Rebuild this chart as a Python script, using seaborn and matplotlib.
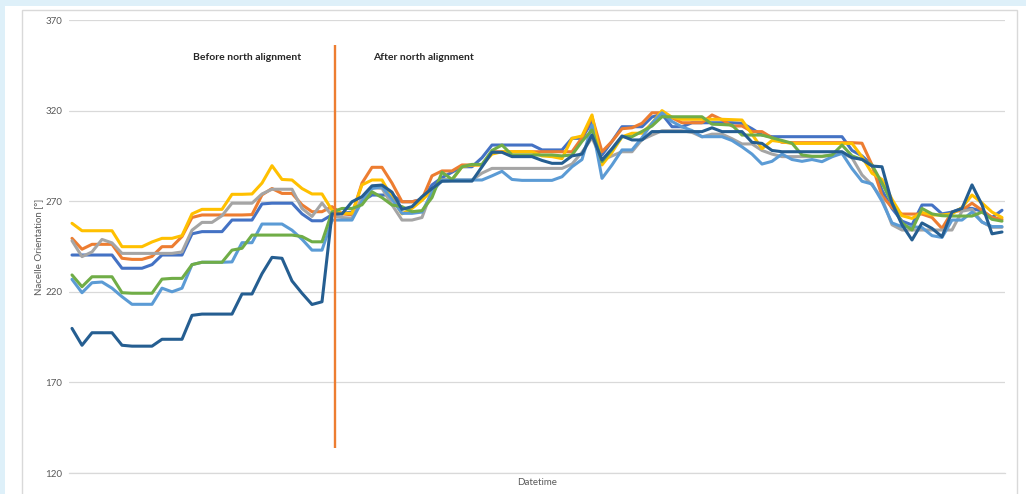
import numpy as np
import pandas as pd
import matplotlib
matplotlib.use("Agg")
import matplotlib.pyplot as plt
import seaborn as sns
from matplotlib.patches import Rectangle

# ---------------- data ----------------
series_names = ["T1", "T2", "T3", "T4", "T5", "T6", "T7"]
series_colors = ["#4472C4", "#ED7D31", "#A5A5A5", "#FFC000", "#5B9BD5", "#70AD47", "#255E91"]

t1_blue = [
    240.3, 240.3, 240.3, 240.3, 240.3, 233, 233, 233, 235, 240.3,
    240.3, 240.3, 252, 253.2, 253.2, 253.2, 259.6, 259.6, 259.6, 268.5,
    268.9, 268.9, 268.9, 263, 259.2, 259.2, 262.5,
    263.3, 264, 270, 273.4, 273.4, 273.4, 269.7, 269.7, 271, 279,
    283, 286, 289, 289, 294, 301, 301, 301, 301, 301,
    298.3, 298.3, 298.3, 304.7, 304.7, 314, 295.5, 303, 311.1, 311.1,
    311.1, 316.5, 318, 311.1, 311.1, 313.3, 313.3, 313.3, 313.3, 313.3,
    313, 310, 306.5, 305.6, 305.6, 305.6, 305.6, 305.6, 305.6, 305.6,
    305.6, 298, 295, 290, 276, 266, 259, 256.9, 267.9, 267.9,
    263, 264, 266, 266, 264.5, 261, 265]

t2_orange = [
    249.5, 243.5, 246.2, 246.2, 246.2, 238.5, 237.9, 237.9, 239.5, 244.9,
    244.9, 250.5, 261, 262.4, 262.4, 262.4, 262.4, 262.4, 262.6, 273.5,
    277, 274.3, 274.3, 268, 264.2, 264.2, 267,
    263, 262.5, 280, 288.7, 288.7, 280, 269.7, 269.7, 271, 284,
    286.7, 286.7, 290, 290, 290, 297.3, 297.3, 297.3, 297.3, 297.3,
    297.3, 297.3, 297.3, 297.3, 305, 316.6, 297.3, 303, 310, 310.5,
    313, 318.8, 318.8, 316, 313.3, 313.3, 313.3, 317.6, 315, 311.5,
    311.5, 308.4, 308.4, 305, 302.5, 302.3, 302.3, 302.3, 302.3, 302.3,
    302.3, 302.3, 302, 290, 273, 266.5, 262.9, 262.9, 262.9, 261,
    255, 264, 265, 268.9, 265, 261, 260]

t3_gray = [
    248.2, 239.4, 242, 248.9, 247, 241.2, 241.2, 241.2, 241.2, 241.2,
    241.2, 242, 254, 258.3, 258.3, 262, 268.9, 268.9, 268.9, 274,
    276.6, 276.6, 276.6, 266, 261.6, 269, 262,
    261, 260.6, 272, 277.5, 277.1, 268, 259.6, 259.6, 261, 276,
    281.7, 281.7, 281.7, 281.7, 285.5, 288.1, 288.1, 288.1, 288.1, 288.1,
    288.1, 288.1, 288.1, 290.5, 297, 305, 292.7, 295, 297.3, 297.3,
    304, 306.5, 308.9, 308.9, 308.9, 308, 305.5, 307, 307, 304.5,
    301.6, 301.6, 298, 296, 294.6, 294.6, 294.6, 294.6, 294.6, 295.5,
    296.5, 294, 284.5, 279, 271.5, 257, 254.1, 254.1, 254.1, 254.1,
    254.1, 254.1, 264.5, 265.5, 258.5, 255.6, 255.6]

t4_yellow = [
    257.8, 253.7, 253.7, 253.7, 253.7, 244.9, 244.9, 244.9, 247.5, 249.5,
    249.5, 251, 263, 265.5, 265.5, 265.5, 273.8, 273.8, 274, 280,
    289.6, 282, 281.7, 277, 274, 274, 265,
    263.3, 263.3, 279, 281.7, 281.7, 272, 263, 266, 270.5, 276,
    281.7, 281.7, 289, 290, 290, 296, 297.3, 297.3, 297.3, 297.3,
    295, 294.6, 293.5, 304.7, 306, 317.6, 290, 297, 305.5, 307.5,
    307.5, 313, 320, 316.3, 315.2, 315.2, 315.2, 315.2, 315.2, 315,
    314.8, 307, 299, 303.5, 302.8, 301.9, 301.9, 301.9, 301.9, 301.9,
    301.9, 301.9, 294.5, 285.4, 282, 271, 262, 260.5, 263.8, 262.4,
    262.4, 263, 266.5, 273.4, 269, 264, 261]

t5_lightblue = [
    226.9, 219.5, 225, 225.4, 222, 217.3, 213.1, 213.1, 213.1, 222,
    220, 222, 235, 236.3, 236.3, 236.3, 236.5, 247.1, 247.1, 257.4,
    257.4, 257.4, 254, 249, 243, 243, 259.6,
    259.6, 259.6, 270, 277, 278, 271, 263.3, 263.3, 264, 275,
    281.7, 281.7, 281.7, 281.7, 281.7, 284, 286.5, 282, 281.5, 281.5,
    281.5, 281.5, 283.5, 289, 293, 312, 282.6, 290, 298.3, 298.3,
    305, 313, 318.8, 314, 311, 309, 305.6, 305.6, 305.6, 303.5,
    300, 296, 290.5, 292, 296, 293, 292, 293, 291.8, 294.5,
    296.4, 288, 281, 279.5, 270, 258, 255.9, 255.9, 255.5, 251,
    250, 259.6, 259.6, 264, 258.5, 256, 256]

t6_green = [
    229.3, 222.8, 228.3, 228.3, 228.3, 219.5, 219.2, 219.2, 219.2, 227,
    227.4, 227.4, 235, 236.3, 236.3, 236.3, 243, 244, 251.3, 251.3,
    251.3, 251.3, 251.3, 250.5, 247.6, 247.6, 264,
    266, 266, 268, 275.2, 272, 267.9, 267, 264.2, 264.8, 272,
    286, 282, 289, 290.3, 290.3, 298, 301, 295.5, 295.5, 295.5,
    295.5, 295.5, 295, 295.5, 303, 309.3, 291.8, 298.5, 305.6, 305.6,
    308.5, 311.5, 316.6, 316.6, 316.6, 316.6, 316.6, 312.5, 312.3, 312,
    306.5, 306.5, 306.5, 305, 303.5, 302, 295.5, 294.8, 294.8, 295.5,
    301, 295, 293, 290, 280, 269, 258, 254.1, 266, 263,
    262, 261.8, 261.8, 261.8, 264, 260, 259]

t7_darkblue = [
    199.8, 190.5, 197.4, 197.4, 197.4, 190.5, 190, 190, 190, 193.8,
    193.8, 193.8, 207, 207.7, 207.7, 207.7, 207.7, 218.8, 218.8, 230,
    239, 238.5, 226, 219.2, 213, 214.5, 263,
    263, 269.7, 272.5, 278.5, 278.9, 275, 265.5, 267, 272.5, 277,
    281, 281.1, 281.1, 281.1, 289, 297, 297, 294.6, 294.6, 294.6,
    292.5, 290.9, 290.9, 295, 296, 306.5, 292.7, 299, 306, 303.8,
    303.8, 308.4, 308.4, 308.4, 308.4, 308.4, 308.4, 310.5, 308.4, 308.4,
    308.4, 302.5, 301.9, 298, 297.3, 297.3, 297.3, 297.3, 297.3, 297.3,
    297.3, 294, 293.1, 289.4, 289, 269, 257, 248.6, 258, 255,
    250.4, 264, 266, 279, 268, 252, 253]

all_series = [t1_blue, t2_orange, t3_gray, t4_yellow, t5_lightblue, t6_green, t7_darkblue]
n_points = len(t1_blue)
for s in all_series:
    assert len(s) == n_points, len(s)
time_index = np.arange(n_points)

divider_t = [26.3, 26.3]
divider_y = [134, 356]

y_ticks = [120, 170, 220, 270, 320, 370]
y_label = "Nacelle Orientation [°]"
x_label = "Datetime"
note_before = "Before north alignment"
note_after = "After north alignment"

df = pd.DataFrame({
    "t": np.tile(time_index, len(series_names)),
    "value": np.concatenate(all_series),
    "series": np.repeat(series_names, n_points),
})

# ---------------- figure ----------------
sns.set_theme(style="white")
plt.rcParams['font.family'] = ['Lato', 'DejaVu Sans']

W, H = 1026, 494
fig = plt.figure(figsize=(W / 100, H / 100), dpi=100, facecolor="#DEF0F9")
fig.patches.append(Rectangle((5 / W, 0), 1, (H - 6) / H, transform=fig.transFigure,
                             facecolor="white", edgecolor="none", zorder=-5))
fig.patches.append(Rectangle((21.5 / W, -0.1), (1016.5 - 21.5) / W, (H - 10.5) / H + 0.1,
                             transform=fig.transFigure, fill=False,
                             edgecolor="#D9D9D9", linewidth=1.0, zorder=-4))

ax = fig.add_axes([69 / W, 1 - 473 / H, 936 / W, 453 / H])
ax.set_facecolor("none")

sns.lineplot(data=df, x="t", y="value", hue="series", hue_order=series_names,
             palette=dict(zip(series_names, series_colors)), legend=False,
             linewidth=2.2, estimator=None, sort=False, ax=ax, zorder=3)

ax.plot(divider_t, divider_y, color="#ED7D31", linewidth=1.7, zorder=6,
        solid_capstyle="butt")

ax.set_xlim(-0.3, n_points - 1 + 0.3)
ax.set_ylim(120, 370)
ax.set_yticks(y_ticks)
ax.set_xticks([])
ax.grid(axis="y", color="#D9D9D9", linewidth=0.9)
ax.set_axisbelow(True)
for side in ["left", "right", "top"]:
    ax.spines[side].set_visible(False)
ax.spines["bottom"].set_color("#D9D9D9")
ax.spines["bottom"].set_linewidth(0.9)
ax.tick_params(axis="y", length=0, pad=5, labelsize=7, labelcolor="#595959")

ax.set_ylabel(y_label, fontsize=7, color="#595959")
ax.yaxis.set_label_coords(-0.0272, 0.5)
ax.set_xlabel(x_label, fontsize=7, color="#595959")
ax.xaxis.set_label_coords(0.5, -0.011)

ax.text((247 - 69) / 936, (473 - 57) / 453, note_before, transform=ax.transAxes,
        ha="center", va="center", fontsize=7.5, fontweight="bold", color="#262626")
ax.text((423 - 69) / 936, (473 - 57) / 453, note_after, transform=ax.transAxes,
        ha="center", va="center", fontsize=7.5, fontweight="bold", color="#262626")

fig.savefig("out.png", dpi=100, facecolor=fig.get_facecolor())
